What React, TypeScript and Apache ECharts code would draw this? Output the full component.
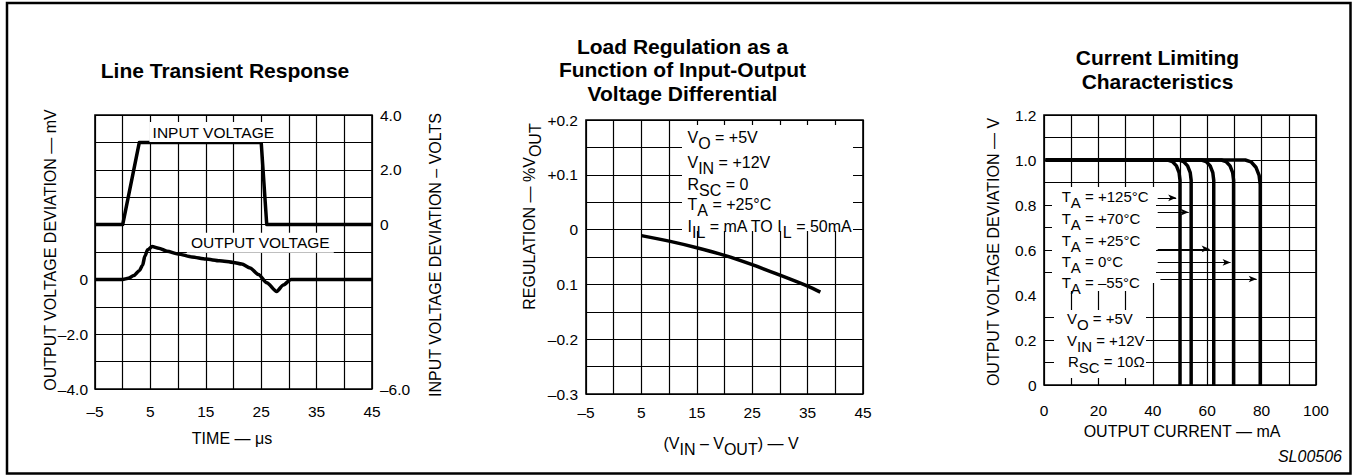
import React, { useEffect, useRef } from 'react';
import * as echarts from 'echarts';

const FONT = '"Liberation Sans", Arial, Helvetica, sans-serif';

// ---------- Panel 1: Line Transient Response ----------
const timeTicks = [-5, 5, 15, 25, 35, 45];
const timeTickLabels = ['–5', '5', '15', '25', '35', '45'];
const outDevTicks = [0, -2, -4];
const outDevTickLabels = ['0', '–2.0', '–4.0'];
const inDevTicks = [4, 2, 0, -6];
const inDevTickLabels = ['4.0', '2.0', '0', '–6.0'];
const inputVoltage = [[-5, 0], [0, 0], [3, 3], [25, 3], [26, 0], [45, 0]];
const outputVoltage = [
  [-5, 0], [0, 0], [1, 0.04], [2, 0.14], [3, 0.32], [3.6, 0.52], [4, 0.85], [4.5, 1.08],
  [5.3, 1.2], [6.5, 1.14], [8, 1.03], [10, 0.93], [12.5, 0.82], [15, 0.74], [17.5, 0.68],
  [20, 0.62], [21.5, 0.56], [23, 0.42], [24.5, 0.18], [26, -0.12], [27.8, -0.44], [29, -0.2],
  [30.4, 0], [45, 0],
];

// ---------- Panel 2: Load Regulation ----------
const diffTicks = [-5, 5, 15, 25, 35, 45];
const diffTickLabels = ['–5', '5', '15', '25', '35', '45'];
const regTicks = [0.2, 0.1, 0, -0.1, -0.2, -0.3];
const regTickLabels = ['+0.2', '+0.1', '0', '0.1', '–0.2', '–0.3'];
const regulation = [
  [5, -0.011], [10, -0.021], [15, -0.033], [20, -0.047], [25, -0.064], [30, -0.083],
  [35, -0.103], [37.3, -0.114],
];

// ---------- Panel 3: Current Limiting ----------
const currentTicks = [0, 20, 40, 60, 80, 100];
const currentTickLabels = ['0', '20', '40', '60', '80', '100'];
const devTicks = [0, 0.2, 0.4, 0.6, 0.8, 1.0, 1.2];
const devTickLabels = ['0', '0.2', '0.4', '0.6', '0.8', '1.0', '1.2'];
const curve125 = [[0.6, 1], [45.5, 1], [47.2, 0.993], [48.7, 0.974], [49.66, 0.944], [50, 0.91], [50, 0]];
const curve70 = [[0.6, 1], [49.6, 1], [51.3, 0.993], [52.8, 0.974], [53.76, 0.944], [54.1, 0.91], [54.1, 0]];
const curve25 = [[0.6, 1], [57.9, 1], [59.6, 0.993], [61.1, 0.974], [62.06, 0.944], [62.4, 0.91], [62.4, 0]];
const curve0 = [[0.6, 1], [65.2, 1], [66.9, 0.993], [68.4, 0.974], [69.36, 0.944], [69.7, 0.91], [69.7, 0]];
const curveM55 = [[0.6, 1], [74.0, 1], [76.1, 0.992], [77.9, 0.968], [79.08, 0.932], [79.5, 0.89], [79.5, 0]];
const tempLabels = ['+125°C', '+70°C', '+25°C', '0°C', '–55°C'];
const arrowY = [0.832, 0.768, 0.605, 0.545, 0.471];
const arrowStartX = [41.8, 41.8, 41.8, 41.8, 42.8];
const arrowEndX = [48.6, 53.2, 60.9, 68.6, 78.2];

const fmt = (ticks: number[], labels: string[]) => (v: number) => {
  const i = ticks.findIndex((t) => Math.abs(t - v) < 1e-6);
  return i >= 0 ? labels[i] : '';
};

const rich = (size: number) => ({
  m: { fontSize: size, fontFamily: FONT, fill: '#000', lineHeight: 16, padding: [0, 0, 6, 0] },
  s: { fontSize: size, fontFamily: FONT, fill: '#000', lineHeight: 16, padding: [6, 0, 0, 0] },
});

const text = (x: number, y: number, t: string, extra: any = {}, elExtra: any = {}) => ({
  type: 'text', x, y, z: 4, silent: true, ...elExtra,
  style: { text: t, fill: '#000', fontSize: 15, fontFamily: FONT, align: 'center', verticalAlign: 'middle', ...extra },
});

const mask = (x: number, y: number, w: number, h: number) => ({
  type: 'rect', z: 1, silent: true, shape: { x, y, width: w, height: h }, style: { fill: '#fff' },
});

const axisLabel = (ticks: number[], labels: string[], margin: number, extra: any = {}) => ({
  formatter: fmt(ticks, labels), margin, fontSize: 15.5, color: '#000', fontFamily: FONT,
  showMinLabel: true, showMaxLabel: true, ...extra,
});

const split = { show: true, lineStyle: { color: '#000', width: 1.2 } };

export default function App() {
  const ref = useRef<HTMLDivElement>(null);
  useEffect(() => {
    const chart = echarts.init(ref.current!, null, { renderer: 'svg' });
    const p3SplitColors = ['#000', '#000', '#000', '#000', 'rgba(0,0,0,0)', '#000', '#000', '#000', '#000', '#000', '#000', '#000', '#000'];
    const line = (data: any, xi: number, yi: number, extra: any = {}) => ({
      type: 'line', data, xAxisIndex: xi, yAxisIndex: yi, symbol: 'none', silent: true,
      lineStyle: { color: '#000', width: 3.5, join: 'round', cap: 'butt' }, ...extra,
    });
    const curveLabels = tempLabels.map((t, i) =>
      text(1061.7, [199, 221, 243, 264, 285][i] - 8, `{m|T}{s|A}{m| = ${t}}`, { align: 'left', verticalAlign: 'top', rich: rich(15) })
    );
    const option: any = {
      animation: false,
      backgroundColor: '#fff',
      grid: [
        { left: 95, top: 115, width: 277, height: 274, show: true, borderColor: '#000', borderWidth: 1.6 },
        { left: 586, top: 120, width: 277, height: 274, show: true, borderColor: '#000', borderWidth: 1.6 },
        { left: 1044, top: 115, width: 272, height: 270, show: true, borderColor: '#000', borderWidth: 1.6 },
      ],
      xAxis: [
        { gridIndex: 0, type: 'value', min: -5, max: 45, interval: 5, axisLine: { show: false }, axisTick: { show: false }, splitLine: split, axisLabel: axisLabel(timeTicks, timeTickLabels, 14) },
        { gridIndex: 1, type: 'value', min: -5, max: 45, interval: 5, axisLine: { show: false }, axisTick: { show: false }, splitLine: split, axisLabel: axisLabel(diffTicks, diffTickLabels, 10) },
        { gridIndex: 2, type: 'value', min: 0, max: 100, interval: 10, axisLine: { show: false }, axisTick: { show: false }, splitLine: split, axisLabel: axisLabel(currentTicks, currentTickLabels, 17) },
      ],
      yAxis: [
        { gridIndex: 0, type: 'value', min: -4, max: 6, interval: 1, axisLine: { show: false }, axisTick: { show: false }, splitLine: split, axisLabel: axisLabel(outDevTicks, outDevTickLabels, 7, { padding: [8, 0, 0, 0] }) },
        { gridIndex: 0, type: 'value', position: 'right', min: -6, max: 4, interval: 1, axisLine: { show: false }, axisTick: { show: false }, splitLine: { show: false }, axisLabel: axisLabel(inDevTicks, inDevTickLabels, 8) },
        { gridIndex: 1, type: 'value', min: -0.3, max: 0.2, interval: 0.05, axisLine: { show: false }, axisTick: { show: false }, splitLine: split, axisLabel: axisLabel(regTicks, regTickLabels, 8) },
        { gridIndex: 2, type: 'value', min: 0, max: 1.2, interval: 0.1, axisLine: { show: false }, axisTick: { show: false }, splitLine: { show: true, lineStyle: { color: p3SplitColors, width: 1.2 } }, axisLabel: axisLabel(devTicks, devTickLabels, 7.5) },
      ],
      series: [
        line(inputVoltage, 0, 1),
        line(outputVoltage, 0, 0, { smooth: 0.25, smoothMonotone: 'x' }),
        line(regulation, 1, 2, { smooth: 0.3 }),
        line(curve125, 2, 3, {
          markLine: {
            silent: true, symbol: ['none', 'arrow'], symbolSize: [5, 8], animation: false,
            lineStyle: { color: '#000', width: 1, type: 'solid' }, label: { show: false }, emphasis: { disabled: true },
            data: arrowY.map((y, i) => [{ coord: [arrowStartX[i], y] }, { coord: [arrowEndX[i], y] }]),
          },
        }),
        line(curve70, 2, 3),
        line(curve25, 2, 3),
        line(curve0, 2, 3),
        line(curveM55, 2, 3),
      ],
      graphic: [
        { type: 'rect', z: 5, silent: true, shape: { x: 7, y: 3, width: 1343.5, height: 470.5 }, style: { fill: 'none', stroke: '#000', lineWidth: 2.5 } },
        // masks behind annotation texts
        mask(682, 125, 171, 106),
        mask(1052, 187, 104, 96),
        mask(1052, 283, 98, 8),
        mask(1054, 310, 92, 68),
        // titles
        text(225, 70, 'Line Transient Response', { fontSize: 21, fontWeight: 'bold' }),
        text(682.5, 46, 'Load Regulation as a', { fontSize: 21, fontWeight: 'bold' }),
        text(682.5, 69.5, 'Function of Input-Output', { fontSize: 21, fontWeight: 'bold' }),
        text(682.5, 93, 'Voltage Differential', { fontSize: 21, fontWeight: 'bold' }),
        text(1157.5, 57, 'Current Limiting', { fontSize: 21, fontWeight: 'bold' }),
        text(1157.5, 81.5, 'Characteristics', { fontSize: 21, fontWeight: 'bold' }),
        // axis names
        text(50, 250, 'OUTPUT VOLTAGE DEVIATION — mV', { fontSize: 16 }, { rotation: Math.PI / 2 }),
        text(435, 255, 'INPUT VOLTAGE DEVIATION – VOLTS', { fontSize: 16 }, { rotation: Math.PI / 2 }),
        text(232, 438, 'TIME — μs', { fontSize: 16 }),
        text(532.5, 216.5, '{m|REGULATION — %V}{s|OUT}', { rich: rich(16) }, { rotation: Math.PI / 2 }),
        text(731, 446, '{m|(V}{s|IN}{m| – V}{s|OUT}{m|) — V}', { rich: rich(16) }),
        text(993, 252, 'OUTPUT VOLTAGE DEVIATION — V', { fontSize: 16 }, { rotation: Math.PI / 2 }),
        text(1182, 431, 'OUTPUT CURRENT — mA', { fontSize: 16 }),
        text(1342, 456, 'SL00506', { fontSize: 16, fontStyle: 'italic', align: 'right' }),
        // panel 1 labels
        text(213.3, 132, 'INPUT VOLTAGE', { fontSize: 15.5, backgroundColor: '#fff', padding: [2, 3, 2, 3] }),
        text(260.3, 242.8, 'OUTPUT VOLTAGE', { fontSize: 15.5, backgroundColor: '#fff', padding: [3, 4, 1, 4] }),
        // panel 2 conditions
        text(687.5, 140 - 8, '{m|V}{s|O}{m| = +5V}', { align: 'left', verticalAlign: 'top', rich: rich(16) }),
        text(687.5, 165 - 8, '{m|V}{s|IN}{m| = +12V}', { align: 'left', verticalAlign: 'top', rich: rich(16) }),
        text(687.5, 187 - 8, '{m|R}{s|SC}{m| = 0}', { align: 'left', verticalAlign: 'top', rich: rich(16) }),
        text(687.5, 207.5 - 8, '{m|T}{s|A}{m| = +25°C}', { align: 'left', verticalAlign: 'top', rich: rich(16) }),
        text(687.5, 229.5 - 8, '{m|I}{s|IL}{m| = mA TO I}{s|L}{m| = 50mA}', { align: 'left', verticalAlign: 'top', rich: rich(16) }),
        // panel 3 conditions
        ...curveLabels,
        text(1067, 321 - 8, '{m|V}{s|O}{m| = +5V}', { align: 'left', verticalAlign: 'top', rich: rich(15) }),
        text(1067, 343 - 8, '{m|V}{s|IN}{m| = +12V}', { align: 'left', verticalAlign: 'top', rich: rich(15) }),
        text(1068, 364.5 - 8, '{m|R}{s|SC}{m| = 10Ω}', { align: 'left', verticalAlign: 'top', rich: rich(15) }),
      ],
    };
    chart.setOption(option);
    return () => chart.dispose();
  }, []);
  return <div ref={ref} style={{ position: 'fixed', left: 0, top: 0, width: 1355, height: 476, background: '#fff' }} />;
}
